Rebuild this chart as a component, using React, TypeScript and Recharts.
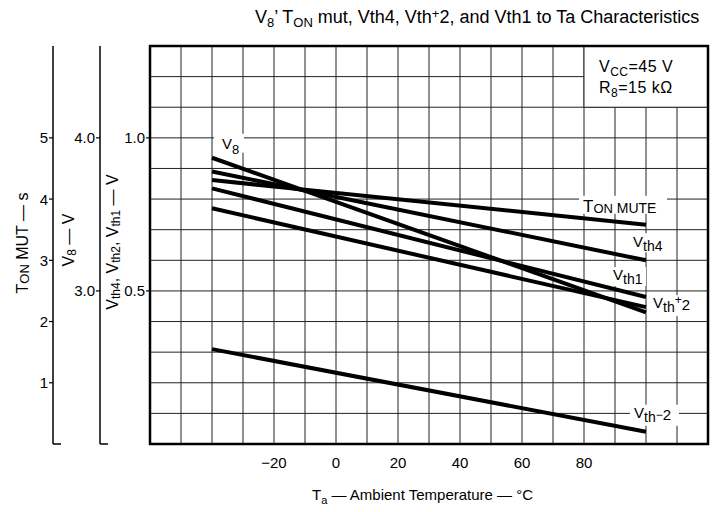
import React from 'react';
import { LineChart, Line, XAxis, YAxis, CartesianGrid, ReferenceArea, Customized } from 'recharts';

const FONT = '"Liberation Sans", Arial, Helvetica, sans-serif';

// end points of every curve, read at Ta = -40 and 100 °C
const temps = [-40, 100];
const v8 = [3.87, 2.86];
const tonMute = [4.31, 3.58];
const vth4 = [0.89, 0.6];
const vth1 = [0.835, 0.48];
const vthPlus2 = [0.77, 0.447];
const vthMinus2 = [0.31, 0.04];

const gridTemps = [-60, -50, -40, -30, -20, -10, 0, 10, 20, 30, 40, 50, 60, 70, 80, 90, 100, 110, 120];
const tempLabels = [-20, 0, 20, 40, 60, 80];
const vthGrid = [0, 0.1, 0.2, 0.3, 0.4, 0.5, 0.6, 0.7, 0.8, 0.9, 1.0, 1.1, 1.2, 1.3];
const vthLabels = [0.5, 1.0];
const v8Ticks = [2, 3, 4];
const tonTicks = [0, 1, 2, 3, 4, 5];

// left axes are stacked by id: "a1" sits against the plot, "a3" is outermost
const VTH = 'a1';
const V8 = 'a2';
const TON = 'a3';

const rows = temps.map((t, i) => ({
  t,
  v8: v8[i],
  ton: tonMute[i],
  vth4: vth4[i],
  vth1: vth1[i],
  vthp2: vthPlus2[i],
  vthm2: vthMinus2[i],
}));

type Part = { s: string; size?: number; dy?: number };

const Parts = ({ parts, size }: { parts: Part[]; size: number }) => (
  <>
    {parts.map((p, i) => (
      <tspan key={i} fontSize={p.size ?? size} dy={p.dy ?? 0}>
        {p.s}
      </tspan>
    ))}
  </>
);

// label drawn at one point of a line, on a white patch that breaks the grid
const seriesLabel =
  (idx: number, dx: number, dy: number, box: number[], parts: Part[]) =>
  (p: any) => {
    if (p.index !== idx) return null;
    const tx = p.x + dx;
    const ty = p.y + dy;
    return (
      <g>
        <rect x={tx + box[0]} y={ty + box[1]} width={box[2]} height={box[3]} fill="#fff" />
        <text x={tx} y={ty} fontSize={15} fill="#000" fontFamily={FONT}>
          <Parts parts={parts} size={15} />
        </text>
      </g>
    );
  };

const leftTick = (labels: number[] | null, foot: number | null, digits: number) => (p: any) => {
  const { x, y, payload } = p;
  const v = payload.value;
  if (foot !== null && v === foot) {
    return <line x1={x} x2={x + 8} y1={y} y2={y} stroke="#000" strokeWidth={1.5} />;
  }
  if (labels && !labels.includes(v)) return <g />;
  return (
    <g>
      <line x1={x - 4} x2={x} y1={y} y2={y} stroke="#000" strokeWidth={1.2} />
      <text x={x - 5} y={y} textAnchor="end" dominantBaseline="central" fontSize={15} fill="#000" fontFamily={FONT}>
        {v.toFixed(digits)}
      </text>
    </g>
  );
};

const tempTick = (p: any) => {
  const { x, y, payload } = p;
  const v = payload.value;
  if (!tempLabels.includes(v)) return <g />;
  return (
    <text x={x} y={y + 24} textAnchor="middle" fontSize={15} fill="#000" fontFamily={FONT}>
      {v < 0 ? '\u2212' + Math.abs(v) : String(v)}
    </text>
  );
};

const Titles = () => (
  <g fontFamily={FONT} fill="#000">
    <text x={255} y={23} fontSize={18}>
      <Parts
        size={18}
        parts={[
          { s: 'V' },
          { s: '8', size: 13, dy: 4 },
          { s: '\u2019 T', dy: -4 },
          { s: 'ON', size: 13, dy: 4 },
          { s: ' mut, Vth4, Vth', dy: -4 },
          { s: '+', size: 13, dy: -5 },
          { s: '2, and Vth1 to Ta Characteristics', dy: 5 },
        ]}
      />
    </text>
    <text x={312} y={500} fontSize={15}>
      <Parts
        size={15}
        parts={[
          { s: 'T' },
          { s: 'a', size: 11, dy: 4 },
          { s: ' \u2014 Ambient  Temperature \u2014 \u00b0C', dy: -4 },
        ]}
      />
    </text>
    <text transform="translate(22,243) rotate(-90)" textAnchor="middle" dominantBaseline="central" fontSize={16}>
      <Parts size={16} parts={[{ s: 'T' }, { s: 'ON', size: 13, dy: 2 }, { s: ' MUT \u2014 s', dy: -2 }]} />
    </text>
    <text transform="translate(68,240) rotate(-90)" textAnchor="middle" dominantBaseline="central" fontSize={16}>
      <Parts size={16} parts={[{ s: 'V' }, { s: '8', size: 12, dy: 4 }, { s: ' \u2014 V', dy: -4 }]} />
    </text>
    <text transform="translate(112,242) rotate(-90)" textAnchor="middle" dominantBaseline="central" fontSize={16}>
      <Parts
        size={16}
        parts={[
          { s: 'V' },
          { s: 'th4', size: 12, dy: 4 },
          { s: ', V', dy: -4 },
          { s: 'th2', size: 12, dy: 4 },
          { s: ', V', dy: -4 },
          { s: 'th1', size: 12, dy: 4 },
          { s: ' \u2014 V', dy: -4 },
        ]}
      />
    </text>
  </g>
);

const CondBox = (p: any) => {
  const { x, y } = p.viewBox;
  return (
    <g fontFamily={FONT} fill="#000">
      <text x={x + 15} y={y + 26} fontSize={16} letterSpacing={0.5}>
        <Parts size={16} parts={[{ s: 'V' }, { s: 'CC', size: 12, dy: 4 }, { s: '=45  V', dy: -4 }]} />
      </text>
      <text x={x + 15} y={y + 47} fontSize={16} letterSpacing={0.5}>
        <Parts size={16} parts={[{ s: 'R' }, { s: '8', size: 12, dy: 4 }, { s: '=15  k\u03a9', dy: -4 }]} />
      </text>
    </g>
  );
};

export default function App() {
  return (
    <div style={{ position: 'absolute', left: 0, top: 0, background: '#fff' }}>
      <LineChart
        width={712}
        height={512}
        data={rows}
        margin={{ top: 46, right: 4, bottom: 0, left: 8 }}
        style={{ fontFamily: FONT }}
      >
        <CartesianGrid yAxisId={VTH} stroke="#222" strokeWidth={1} />
        <XAxis
          dataKey="t"
          type="number"
          domain={[-60, 120]}
          ticks={gridTemps}
          interval={0}
          height={68}
          axisLine={false}
          tickLine={false}
          tickSize={0}
          tickMargin={0}
          tick={tempTick}
        />
        <YAxis
          yAxisId={VTH}
          type="number"
          domain={[0, 1.3]}
          ticks={vthGrid}
          interval={0}
          width={50}
          axisLine={false}
          tickLine={false}
          tickSize={0}
          tickMargin={0}
          tick={leftTick(vthLabels, null, 1)}
        />
        <YAxis
          yAxisId={V8}
          type="number"
          domain={[2, 4.6]}
          ticks={v8Ticks}
          interval={0}
          width={47}
          axisLine={{ stroke: '#000', strokeWidth: 1.5 }}
          tickLine={false}
          tickSize={0}
          tickMargin={0}
          tick={leftTick(null, 2, 1)}
        />
        <YAxis
          yAxisId={TON}
          type="number"
          domain={[0, 6.5]}
          ticks={tonTicks}
          interval={0}
          width={45}
          axisLine={{ stroke: '#000', strokeWidth: 1.5 }}
          tickLine={false}
          tickSize={0}
          tickMargin={0}
          tick={leftTick(null, 0, 0)}
        />
        <ReferenceArea
          yAxisId={VTH}
          x1={80}
          x2={120}
          y1={1.1}
          y2={1.3}
          fill="#fff"
          fillOpacity={1}
          stroke="#222"
          strokeWidth={1}
          label={CondBox}
        />
        <ReferenceArea
          yAxisId={VTH}
          x1={-60}
          x2={120}
          y1={0}
          y2={1.3}
          fill="none"
          stroke="#000"
          strokeWidth={2.5}
        />
        <Line
          yAxisId={V8}
          dataKey="v8"
          stroke="#000"
          strokeWidth={4}
          dot={false}
          isAnimationActive={false}
          label={seriesLabel(0, 10, -9, [-8, -15, 30, 19], [{ s: 'V' }, { s: '8', size: 13, dy: 5 }])}
        />
        <Line
          yAxisId={TON}
          dataKey="ton"
          stroke="#000"
          strokeWidth={4}
          dot={false}
          isAnimationActive={false}
          label={seriesLabel(1, -63, -13, [-4, -16, 88, 18], [
            { s: 'T', size: 17 },
            { s: 'ON', size: 13, dy: 1 },
            { s: ' MUTE', size: 14, dy: 0 },
          ])}
        />
        <Line
          yAxisId={VTH}
          dataKey="vth4"
          stroke="#000"
          strokeWidth={4}
          dot={false}
          isAnimationActive={false}
          label={seriesLabel(1, -13, -13, [-3, -14, 38, 19], [{ s: 'V' }, { s: 'th4', size: 14, dy: 4 }])}
        />
        <Line
          yAxisId={VTH}
          dataKey="vth1"
          stroke="#000"
          strokeWidth={4}
          dot={false}
          isAnimationActive={false}
          label={seriesLabel(1, -33, -17, [-3, -13, 36, 19], [{ s: 'V' }, { s: 'th1', size: 14, dy: 4 }])}
        />
        <Line
          yAxisId={VTH}
          dataKey="vthp2"
          stroke="#000"
          strokeWidth={4}
          dot={false}
          isAnimationActive={false}
          label={seriesLabel(1, 7, 1, [-3, -13, 46, 21], [
            { s: 'V' },
            { s: 'th', size: 14, dy: 4 },
            { s: '+', size: 12, dy: -8 },
            { s: '2', size: 15, dy: 6 },
          ])}
        />
        <Line
          yAxisId={VTH}
          dataKey="vthm2"
          stroke="#000"
          strokeWidth={4}
          dot={false}
          isAnimationActive={false}
          label={seriesLabel(1, -12, -14, [-4, -13, 49, 21], [
            { s: 'V' },
            { s: 'th', size: 14, dy: 4 },
            { s: '\u2212', size: 12, dy: -3 },
            { s: '2', size: 15, dy: 1 },
          ])}
        />
        <Customized component={<Titles />} />
      </LineChart>
    </div>
  );
}
